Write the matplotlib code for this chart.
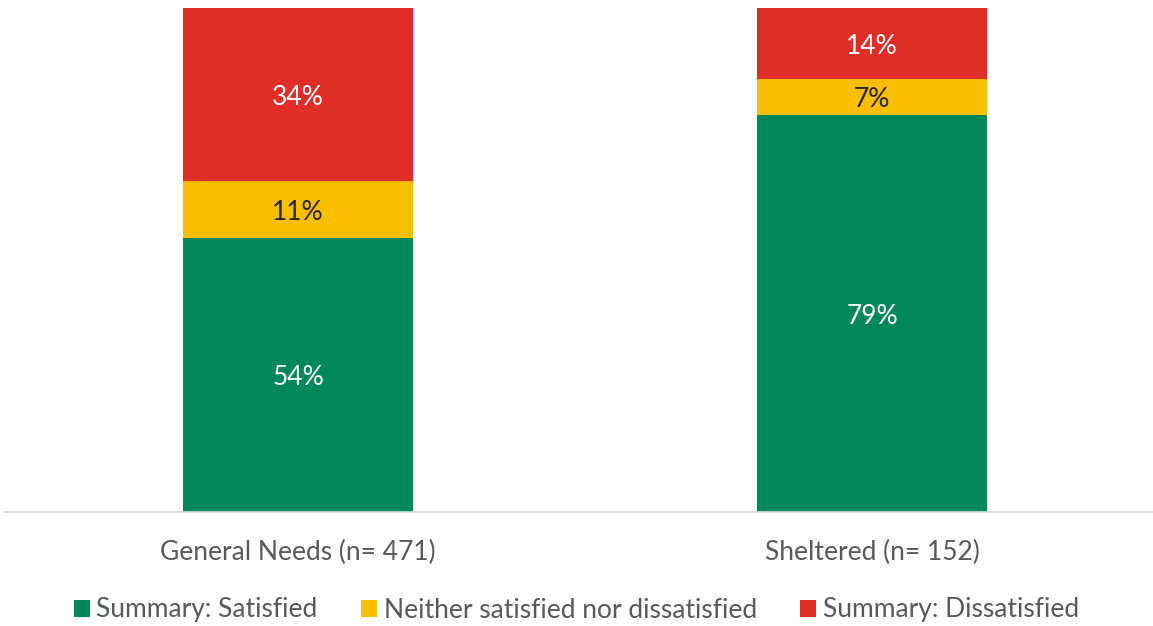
import matplotlib
matplotlib.use("Agg")
import matplotlib.pyplot as plt
from matplotlib.patches import Patch

plt.rcParams['font.family'] = ['Lato', 'DejaVu Sans']

categories = ["General Needs (n= 471)", "Sheltered (n= 152)"]
series_names = ["Summary: Satisfied", "Neither satisfied nor dissatisfied", "Summary: Dissatisfied"]
satisfied = [54.4, 78.8]
neither = [11.2, 7.1]
dissatisfied = [34.4, 14.1]
colors = ["#00875A", "#F9BE00", "#E12D27"]
label_colors = ["white", "#262626", "white"]

W, H = 1153, 626
fig = plt.figure(figsize=(W / 100, H / 100), dpi=100)
ax = fig.add_axes([5 / W, 1 - 512 / H, 1148 / W, 504 / H])

x = list(range(len(categories)))
bottoms = [0.0] * len(categories)
for vals, col, lc in zip([satisfied, neither, dissatisfied], colors, label_colors):
    ax.bar(x, vals, width=0.4, bottom=bottoms, color=col, edgecolor='none')
    for xi, v, b in zip(x, vals, bottoms):
        ax.annotate(f"{round(v):.0f}%", (xi, b + v / 2), xytext=(0, -2),
                    textcoords='offset points', ha='center', va='center',
                    color=lc, fontsize=19)
    bottoms = [b + v for b, v in zip(bottoms, vals)]

ax.set_xlim(-293 / 574, 855 / 574)
ax.set_ylim(0, 100)
ax.set_yticks([])
for s in ['top', 'right', 'left']:
    ax.spines[s].set_visible(False)
ax.spines['bottom'].set_color('#D9D9D9')
ax.spines['bottom'].set_linewidth(1.2)
ax.set_xticks(x)
ax.set_xticklabels(categories, color='#595959', fontsize=19)
ax.tick_params(axis='x', length=0, pad=20)

handles = [Patch(facecolor=c, edgecolor='none') for c in colors]
fig.legend(handles, series_names, loc='center', bbox_to_anchor=(0.5, 1 - 610 / H),
           ncol=3, frameon=False, fontsize=19, handlelength=0.6, handleheight=0.6,
           handletextpad=0.25, columnspacing=1.65, labelcolor='#595959',
           borderpad=0, borderaxespad=0)

fig.savefig("out.png", dpi=100)
